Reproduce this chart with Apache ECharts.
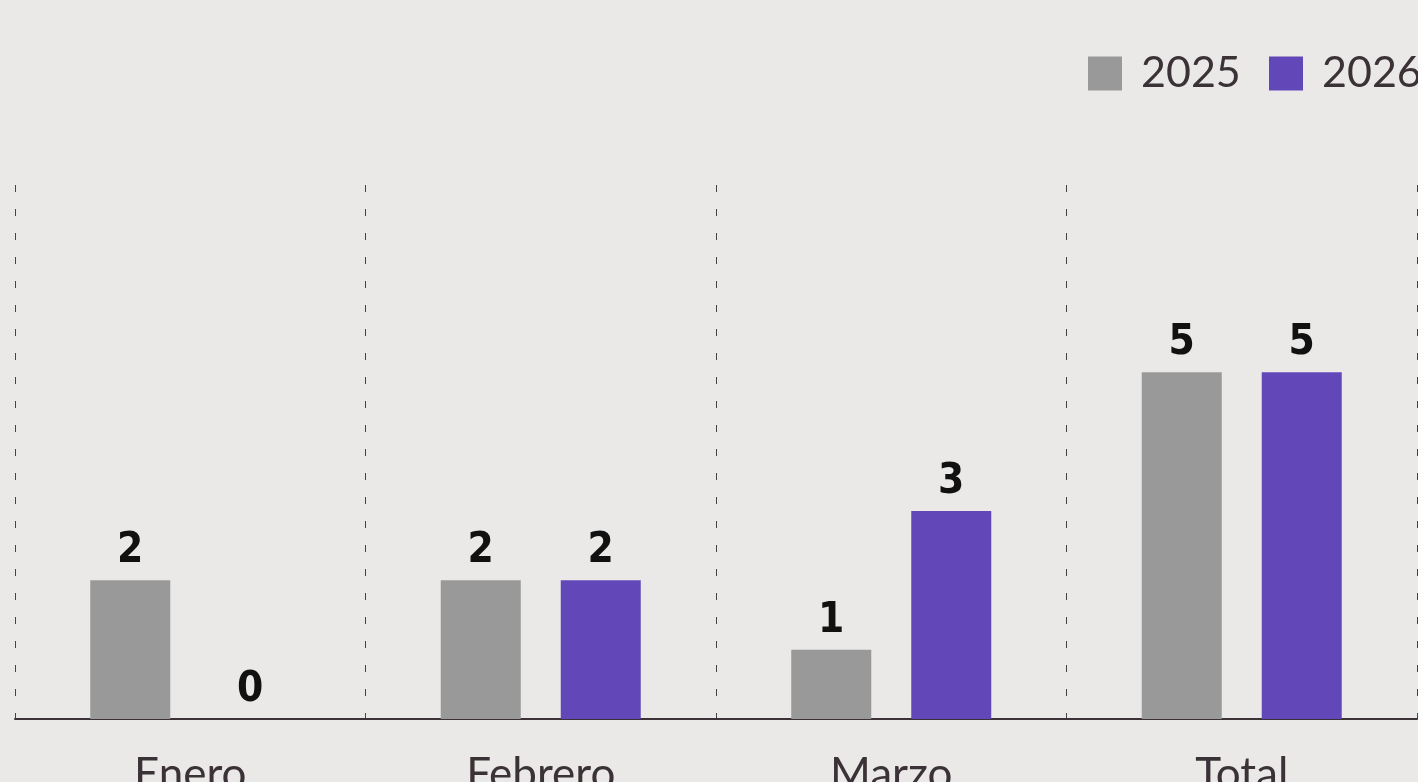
<!DOCTYPE html>
<html><head><meta charset="utf-8">
<style>html,body{margin:0;padding:0;background:#eae9e7;}#c{width:1418px;height:782px;}</style>
<script src="https://cdn.jsdelivr.net/npm/echarts@6/dist/echarts.min.js"></script>
</head><body><div id="c"></div>
<script>
const categories = ['Enero', 'Febrero', 'Marzo', 'Total'];
const seriesNames = ['2025', '2026'];
const values2025 = [2, 2, 1, 5];
const values2026 = [0, 2, 3, 5];

const chart = echarts.init(document.getElementById('c'));
const labelStyle = {
  show: true, position: 'top', distance: 8,
  fontFamily: 'DejaVu Sans Condensed', fontWeight: 'bold', fontSize: 42, color: '#111'
};
const legendBase = {
  top: 47, itemWidth: 34, itemHeight: 34, icon: 'rect', orient: 'horizontal',
  textStyle: { fontFamily: 'Lato', fontSize: 43, color: '#3b3237', padding: [0, 0, 0, 14] }
};
chart.setOption({
  backgroundColor: '#eae9e7',
  animation: false,
  legend: [
    Object.assign({}, legendBase, { left: 1083, data: [seriesNames[0]] }),
    Object.assign({}, legendBase, { left: 1264, data: [seriesNames[1]] })
  ],
  grid: { left: 15, right: 1, top: 185, bottom: 63, outerBoundsMode: 'none', containLabel: false },
  xAxis: {
    type: 'category', data: categories,
    axisLine: { lineStyle: { color: '#3b3237', width: 2 } },
    axisTick: { show: false },
    axisLabel: { fontFamily: 'Lato', fontSize: 44, color: '#3b3237', margin: 34 },
    splitLine: { show: true, lineStyle: { color: '#444', width: 1, type: [7, 17] } }
  },
  yAxis: { type: 'value', min: 0, max: 7.7, show: false, splitLine: { show: false } },
  series: [
    { name: seriesNames[0], type: 'bar', data: values2025, barWidth: 80, barGap: '50%',
      itemStyle: { color: '#999999' }, label: labelStyle },
    { name: seriesNames[1], type: 'bar', data: values2026, barWidth: 80,
      itemStyle: { color: '#6247b8' }, label: labelStyle }
  ]
});
</script></body></html>
